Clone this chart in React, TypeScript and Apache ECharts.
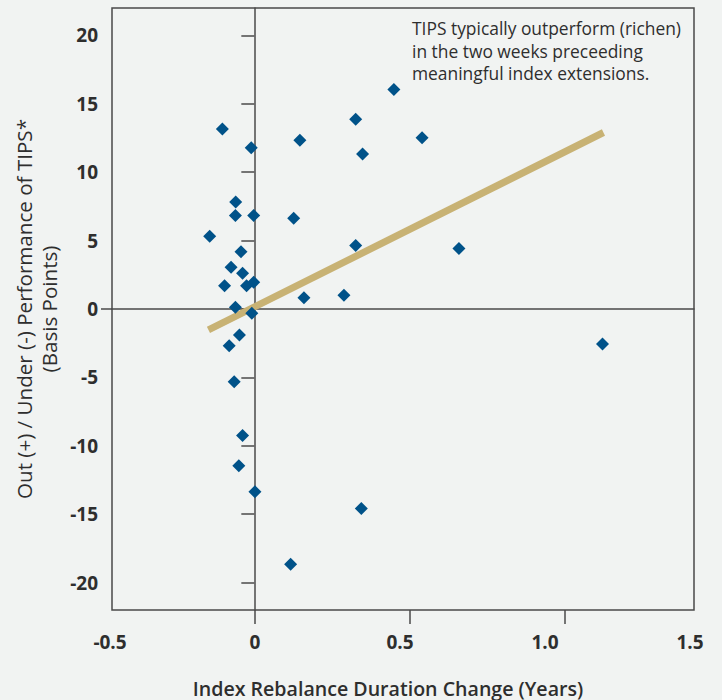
import React, { useEffect, useRef } from "react";
import * as echarts from "echarts";

// Tick marks (data scale) and tick labels
const xTickValues = [0, 0.5, 1.0];
const xLabelValues = [-0.5, 0, 0.5, 1.0, 1.5];
const yTickValues = [-20, -15, -10, -5, 0, 5, 10, 15, 20];
const xRange = [-0.459, 1.418];
const yRange = [-22, 22];

// Scatter: index rebalance duration change (years) vs TIPS performance (bp)
const durationChange = [
  -0.103, -0.01, -0.06, -0.061, -0.002, -0.144, -0.043, -0.075, -0.038, -0.096,
  -0.025, -0.002, -0.061, -0.008, -0.048, -0.081, -0.065, -0.038, -0.05, 0.002,
  0.45, 0.327, 0.147, 0.541, 0.349, 0.127, 0.327, 0.66, 0.16, 0.289,
  1.123, 0.345, 0.117,
];
const performance = [
  13.15, 11.78, 7.82, 6.84, 6.84, 5.31, 4.19, 3.05, 2.61, 1.7,
  1.7, 1.95, 0.12, -0.31, -1.9, -2.68, -5.31, -9.25, -11.45, -13.35,
  16.05, 13.86, 12.34, 12.51, 11.32, 6.63, 4.65, 4.43, 0.83, 1.0,
  -2.56, -14.59, -18.65,
];

// Trend line end points
const trendX = [-0.148, 1.126];
const trendY = [-1.53, 12.9];

const noteLines = [
  "TIPS typically outperform (richen)",
  "in the two weeks preceeding",
  "meaningful index extensions.",
];
const xTitle = "Index Rebalance Duration Change (Years)";
const yTitle1 = "Out (+) / Under (-) Performance of TIPS*";
const yTitle2 = "(Basis Points)";

const FONT = "'Open Sans', 'Noto Sans', sans-serif";
const AXIS_COLOR = "#4a4a4a";
const TEXT_COLOR = "#2e2e2e";

export default function App() {
  const ref = useRef<HTMLDivElement>(null);

  useEffect(() => {
    if (!ref.current) return;
    const chart = echarts.init(ref.current, undefined, { renderer: "svg" });
    const points = durationChange.map((x, i) => [x, performance[i]]);
    const trend = trendX.map((x, i) => [x, trendY[i]]);

    chart.setOption({
      animation: false,
      backgroundColor: "#f1f3f2",
      grid: [
        {
          left: 112,
          right: 28,
          top: 8,
          bottom: 90,
          show: true,
          borderColor: AXIS_COLOR,
          borderWidth: 1.5,
          backgroundColor: "transparent",
        },
        { left: 110, right: 32, top: 8, bottom: 90 },
      ],
      xAxis: [
        {
          gridIndex: 0,
          type: "value",
          min: xRange[0],
          max: xRange[1],
          position: "bottom",
          axisLine: { show: true, onZero: true, lineStyle: { color: AXIS_COLOR, width: 1.5 } },
          axisTick: { show: false },
          axisLabel: { show: false },
          splitLine: { show: false },
        },
        {
          gridIndex: 0,
          type: "value",
          min: xRange[0],
          max: xRange[1],
          position: "bottom",
          axisLine: { show: false, onZero: false },
          axisTick: {
            show: true,
            customValues: xTickValues,
            length: 14,
            lineStyle: { color: AXIS_COLOR, width: 1.5 },
          },
          axisLabel: { show: false },
          splitLine: { show: false },
        },
        {
          gridIndex: 1,
          type: "value",
          min: -0.5,
          max: 1.5,
          interval: 0.5,
          position: "bottom",
          axisLine: { show: false, onZero: false },
          axisTick: { show: false },
          axisLabel: {
            show: true,
            customValues: xLabelValues,
            margin: 22,
            fontSize: 19,
            fontWeight: "bold",
            fontFamily: FONT,
            color: TEXT_COLOR,
            formatter: (v: number) => (v === 0 ? "0" : v.toFixed(1)),
          },
          splitLine: { show: false },
        },
      ],
      yAxis: [
        {
          gridIndex: 0,
          type: "value",
          min: yRange[0],
          max: yRange[1],
          position: "left",
          axisLine: { show: true, onZero: true, lineStyle: { color: AXIS_COLOR, width: 1.5 } },
          axisTick: {
            show: true,
            customValues: yTickValues,
            length: 13,
            lineStyle: { color: AXIS_COLOR, width: 1.5 },
          },
          axisLabel: { show: false },
          splitLine: { show: false },
        },
        {
          gridIndex: 0,
          type: "value",
          min: yRange[0],
          max: yRange[1],
          position: "left",
          axisLine: { show: false, onZero: false },
          axisTick: {
            show: true,
            customValues: [0],
            length: 11,
            lineStyle: { color: AXIS_COLOR, width: 1.5 },
          },
          axisLabel: {
            show: true,
            customValues: yTickValues,
            margin: 14,
            fontSize: 19,
            fontWeight: "bold",
            fontFamily: FONT,
            color: TEXT_COLOR,
          },
          splitLine: { show: false },
        },
        {
          gridIndex: 1,
          type: "value",
          min: 0,
          max: 1,
          show: false,
        },
      ],
      series: [
        {
          type: "line",
          xAxisIndex: 0,
          yAxisIndex: 0,
          data: trend,
          showSymbol: false,
          symbol: "none",
          lineStyle: { color: "#c8b274", width: 7, cap: "butt" },
          z: 2,
          silent: true,
        },
        {
          type: "scatter",
          xAxisIndex: 0,
          yAxisIndex: 0,
          data: points,
          symbol: "diamond",
          symbolSize: 13,
          itemStyle: { color: "#005289", opacity: 1 },
          z: 3,
        },
      ],
      graphic: [
        {
          type: "text",
          x: 412,
          y: 17,
          style: {
            text: noteLines.join("\n"),
            fontSize: 17.4,
            lineHeight: 22.5,
            fontFamily: FONT,
            fill: TEXT_COLOR,
            align: "left",
            verticalAlign: "top",
          },
        },
        {
          type: "text",
          x: 388,
          y: 688,
          style: {
            text: xTitle,
            fontSize: 19.6,
            fontWeight: 600,
            fontFamily: FONT,
            fill: TEXT_COLOR,
            align: "center",
            verticalAlign: "middle",
          },
        },
        {
          type: "text",
          x: 24,
          y: 309,
          rotation: Math.PI / 2,
          style: {
            text: yTitle1,
            fontSize: 20.6,
            fontWeight: 500,
            fontFamily: FONT,
            fill: TEXT_COLOR,
            align: "center",
            verticalAlign: "middle",
          },
        },
        {
          type: "text",
          x: 49,
          y: 309,
          rotation: Math.PI / 2,
          style: {
            text: yTitle2,
            fontSize: 20.6,
            fontWeight: 500,
            fontFamily: FONT,
            fill: TEXT_COLOR,
            align: "center",
            verticalAlign: "middle",
          },
        },
      ],
    });

    return () => chart.dispose();
  }, []);

  return (
    <div
      ref={ref}
      style={{ position: "fixed", left: 0, top: 0, width: 722, height: 700, background: "#f1f3f2" }}
    />
  );
}
